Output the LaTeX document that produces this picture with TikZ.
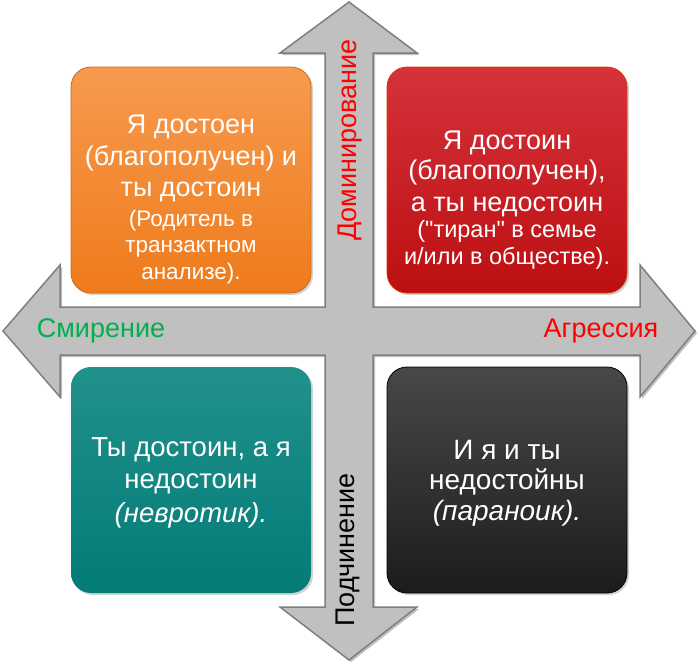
\documentclass[tikz,border=0pt]{standalone}
\usepackage{fontspec}
\setmainfont{Liberation Sans}
\usetikzlibrary{shadows}

\definecolor{oranzhVerh}{HTML}{F79A4E}
\definecolor{oranzhNiz}{HTML}{EF7B1C}
\definecolor{krasnVerh}{HTML}{D5323A}
\definecolor{krasnNiz}{HTML}{BC0F12}
\definecolor{birjuzVerh}{HTML}{21918C}
\definecolor{birjuzNiz}{HTML}{037B77}
\definecolor{temnVerh}{HTML}{484848}
\definecolor{temnNiz}{HTML}{1C1C1C}
\definecolor{strelka}{HTML}{C0C0C0}
\definecolor{strelkaKraj}{HTML}{7F7F7F}
\definecolor{zelen}{HTML}{00B050}

\tikzset{
  kvadrat/.style={rounded corners=20pt, minimum width=240pt, minimum height=226pt,
    line width=0.8pt,
    drop shadow={opacity=0.35, shadow xshift=2pt, shadow yshift=-2pt}},
  tekst/.style={align=center, text=white, inner sep=0pt},
  podpis/.style={font=\fontsize{27}{30}\selectfont}
}

\newcommand{\malyj}{\fontsize{22.5}{27}\selectfont}
\newcommand{\malyjK}{\fontsize{23.5}{27}\selectfont}

\begin{document}
\begin{tikzpicture}[x=1pt,y=-1pt]

\useasboundingbox (0,0) rectangle (700,664);

% Крест из стрелок
\fill[black, opacity=0.25] ([shift={(2,2)}]349,2) -- ++(68,51) -- ++(-44,0) -- ++(0,254) -- ++(267,0) -- ++(0,-42) -- ++(55,66) -- ++(-55,66) -- ++(0,-42) -- ++(-267,0) -- ++(0,252) -- ++(44,0) -- ++(-68,53) -- ++(-69,-53) -- ++(45,0) -- ++(0,-252) -- ++(-265,0) -- ++(0,42) -- ++(-57,-66) -- ++(57,-66) -- ++(0,42) -- ++(265,0) -- ++(0,-254) -- ++(-45,0) -- cycle;
\draw[strelkaKraj, fill=strelka, line width=1.5pt, line join=miter]
  (349,2) -- (417,53) -- (373,53) -- (373,307) -- (640,307) -- (640,265) -- (695,331)
  -- (640,397) -- (640,355) -- (373,355) -- (373,607) -- (417,607) -- (349,660)
  -- (280,607) -- (325,607) -- (325,355) -- (60,355) -- (60,397) -- (3,331)
  -- (60,265) -- (60,307) -- (325,307) -- (325,53) -- (280,53) -- cycle;

% Подписи осей
\node[podpis, text=red, rotate=90] (dominir) at (350,140) {Доминирование};
\node[podpis, text=black, rotate=90] (podchin) at (348,550) {Подчинение};
\node[podpis, text=zelen] (smiren) at (101,331) {Смирение};
\node[podpis, text=red] (agress) at (601,331) {Агрессия};

% Квадраты
\node[kvadrat, draw=oranzhNiz!85!black, top color=oranzhVerh, bottom color=oranzhNiz] (roditel) at (191,180) {};
\node[kvadrat, draw=krasnNiz!60!orange, top color=krasnVerh, bottom color=krasnNiz] (tiran) at (507,180) {};
\node[kvadrat, top color=birjuzVerh, bottom color=birjuzNiz] (nevrotik) at (191,480) {};
\node[kvadrat, draw=black, top color=temnVerh, bottom color=temnNiz] (paranoik) at (507,480) {};

% Тексты
\node[tekst, font=\fontsize{27}{32}\selectfont] (roditelTekst) at ([yshift=-20pt]roditel.center)
  {Я достоен\\(благополучен) и\\[-1pt]ты достоин\\[-2pt]
   \malyj (Родитель в\\[-6pt] \malyj транзактном\\[-5pt] \malyj анализе).};

\node[tekst, font=\fontsize{27}{32}\selectfont] (tiranTekst) at ([yshift=-20pt]tiran.center)
  {Я достоин\\[-2pt](благополучен),\\а ты недостоин\\[-6pt]
   \malyjK (\textquotedbl тиран\textquotedbl{} в семье\\[-5pt] \malyjK и/или в обществе).};

\node[tekst, font=\fontsize{27.5}{33}\selectfont] (nevrotikTekst) at ([yshift=-3pt]nevrotik.center)
  {Ты достоин, а я\\[-1pt]недостоин\\[1pt]\textit{(невротик).}};

\node[tekst, font=\fontsize{28}{30}\selectfont] (paranoikTekst) at ([yshift=-3.5pt]paranoik.center)
  {И я и ты\\недостойны\\[1pt]\textit{(параноик).}};

\end{tikzpicture}
\end{document}
